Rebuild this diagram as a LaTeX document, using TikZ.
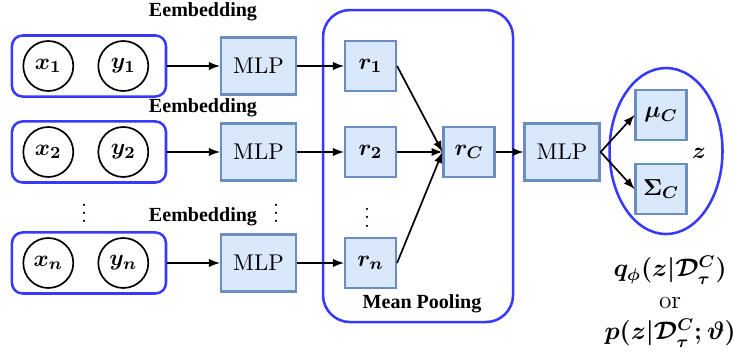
\documentclass[tikz,border=0pt]{standalone}
\usepackage{fontspec}
\newfontfamily\labelfont{Liberation Serif}
\usetikzlibrary{arrows,shapes.geometric}
\definecolor{boxfill}{HTML}{DAE8FC}
\definecolor{boxline}{HTML}{6C8EBF}
\definecolor{grpblue}{HTML}{3838FF}

\begin{document}
\begin{tikzpicture}[>=latex,
  blk/.style={draw=boxline, fill=boxfill, line width=1pt, minimum width=1.25cm, minimum height=0.95cm, inner sep=0pt, font=\fontsize{10.8}{13}\selectfont},
  rblk/.style={blk, minimum width=0.85cm, minimum height=0.833cm, font=\fontsize{11}{13}\selectfont\boldmath},
  var/.style={circle, draw, thick, minimum size=0.833cm, inner sep=0pt, font=\fontsize{11}{13}\selectfont\boldmath},
  grp/.style={draw=grpblue, rounded corners=5pt, line width=1.2pt, minimum width=2.567cm, minimum height=1.017cm},
  lbl/.style={font=\labelfont\bfseries\fontsize{9.5}{11}\selectfont},
  dots/.style={inner sep=0pt},
  conn/.style={->, thick}]
\useasboundingbox (0,0) rectangle (12.233,-5.933);

% embedding rows
\node[grp] (g1) at (1.483,-1.1) {};
\node[var] (x1) at (0.805,-1.1) {$x_1$};
\node[var] (y1) at (2.055,-1.1) {$y_1$};
\node[lbl] (e1) at (3.383,-0.2) {Eembedding};
\node[blk] (m1) at (4.308,-1.1) {MLP};

\node[grp] (g2) at (1.483,-2.533) {};
\node[var] (x2) at (0.805,-2.533) {$x_2$};
\node[var] (y2) at (2.055,-2.533) {$y_2$};
\node[lbl] (e2) at (3.383,-1.8) {Eembedding};
\node[blk] (m2) at (4.308,-2.533) {MLP};

\node[dots] (d1) at (1.4,-3.45) {$\vdots$};
\node[dots] (d2) at (4.6,-3.45) {$\vdots$};

\node[grp] (g3) at (1.483,-4.383) {};
\node[var] (x3) at (0.805,-4.383) {$x_n$};
\node[var] (y3) at (2.055,-4.383) {$y_n$};
\node[lbl] (e3) at (3.383,-3.617) {Eembedding};
\node[blk] (m3) at (4.308,-4.383) {MLP};

% mean pooling
\node[draw=grpblue, line width=1.2pt, rounded corners=0.45cm, minimum width=3.167cm, minimum height=5.2cm] (pool) at (6.967,-2.767) {};
\node[rblk] (r1) at (6.175,-1.1) {$r_1$};
\node[rblk] (r2) at (6.175,-2.533) {$r_2$};
\node[dots] (d3) at (6.117,-3.52) {$\vdots$};
\node[rblk] (r3) at (6.175,-4.383) {$r_n$};
\node[rblk] (rc) at (7.817,-2.533) {$r_C$};
\node[lbl] (mp) at (7.033,-5.067) {Mean Pooling};

% latent
\node[blk] (m4) at (9.367,-2.533) {MLP};
\node[ellipse, draw=grpblue, line width=1.2pt, minimum width=1.883cm, minimum height=2.767cm] (zg) at (11.1,-2.517) {};
\node[rblk] (mu) at (11.017,-1.917) {$\mu_C$};
\node[rblk] (sg) at (11.017,-3.15) {$\Sigma_C$};
\node[font=\fontsize{11}{13}\selectfont\boldmath] (z) at (11.65,-2.55) {$z$};
\node[font=\large\boldmath] (q) at (11.167,-4.5) {$q_\phi(z|\mathcal{D}_\tau^C)$};
\node[font=\large] (or) at (11.167,-5.05) {or};
\node[font=\large\boldmath] (p) at (11.167,-5.55) {$p(z|\mathcal{D}_\tau^C;\vartheta)$};

\draw[conn] (g1) -- (m1);
\draw[conn] (g2) -- (m2);
\draw[conn] (g3) -- (m3);
\draw[conn] (m1) -- (r1);
\draw[conn] (m2) -- (r2);
\draw[conn] (m3) -- (r3);
\draw[conn] (r1.east) -- (rc.west);
\draw[conn] (r2.east) -- (rc.west);
\draw[conn] (r3.east) -- (rc.west);
\draw[conn] (rc) -- (m4);
\draw[conn] (m4.east) -- (mu.west);
\draw[conn] (m4.east) -- (sg.west);
\end{tikzpicture}
\end{document}
